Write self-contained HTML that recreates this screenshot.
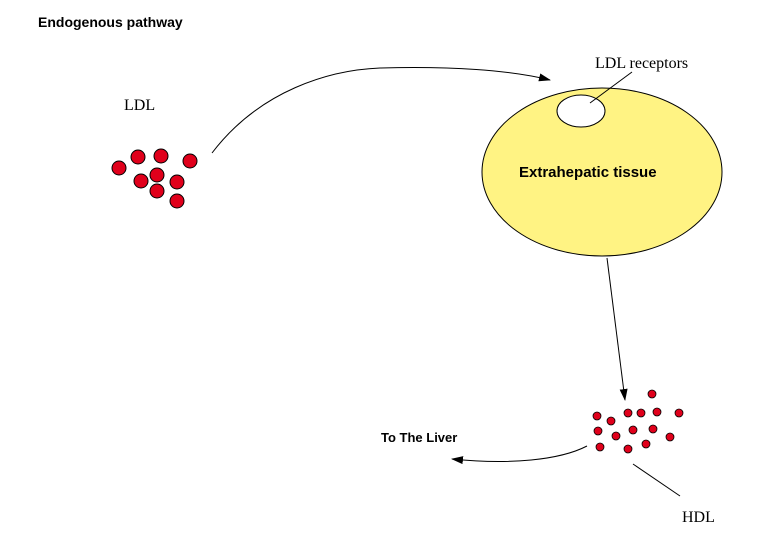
<!DOCTYPE html>
<html><head><style>
body{margin:0;background:#fff;}
svg text{font-family:"Liberation Sans",sans-serif;}
</style></head><body>
<svg width="760" height="547" viewBox="0 0 760 547">
<defs><marker id="ah" markerWidth="12" markerHeight="8" refX="11" refY="4" orient="auto" markerUnits="userSpaceOnUse"><path d="M0,0 L12,4 L0,8 z" fill="#000"/></marker></defs>
<text x="38" y="27" font-size="14" font-weight="bold">Endogenous pathway</text>
<text x="124" y="110" font-size="16" font-family="Liberation Serif" style="font-family:'Liberation Serif',serif">LDL</text>
<g fill="#e0001b" stroke="#000" stroke-width="1">
<circle cx="119" cy="168" r="7"/><circle cx="138" cy="157" r="7"/><circle cx="161" cy="156" r="7"/><circle cx="190" cy="161" r="7"/><circle cx="141" cy="181" r="7"/><circle cx="157" cy="175" r="7"/><circle cx="177" cy="182" r="7"/><circle cx="157" cy="191" r="7"/><circle cx="177" cy="201" r="7"/>
</g>
<path d="M212,153 C260,90 330,70 380,68 C450,66 510,70 550,80" fill="none" stroke="#000" stroke-width="1" marker-end="url(#ah)"/>
<ellipse cx="602" cy="172" rx="120" ry="84" fill="#fff383" stroke="#000" stroke-width="1"/>
<ellipse cx="581" cy="111" rx="24" ry="16" fill="#fff" stroke="#000" stroke-width="1"/>
<line x1="590" y1="103" x2="632" y2="72" stroke="#000" stroke-width="1"/>
<text x="595" y="68" font-size="16" style="font-family:'Liberation Serif',serif">LDL receptors</text>
<text x="519" y="177" font-size="15" font-weight="bold">Extrahepatic tissue</text>
<line x1="607" y1="258" x2="625" y2="400" stroke="#000" stroke-width="1" marker-end="url(#ah)"/>
<g fill="#e0001b" stroke="#000" stroke-width="0.8">
<circle cx="597" cy="416" r="4"/><circle cx="611" cy="421" r="4"/><circle cx="628" cy="413" r="4"/><circle cx="641" cy="413" r="4"/><circle cx="657" cy="412" r="4"/><circle cx="679" cy="413" r="4"/><circle cx="652" cy="394" r="4"/><circle cx="598" cy="431" r="4"/><circle cx="616" cy="436" r="4"/><circle cx="633" cy="430" r="4"/><circle cx="653" cy="429" r="4"/><circle cx="670" cy="437" r="4"/><circle cx="600" cy="447" r="4"/><circle cx="628" cy="449" r="4"/><circle cx="646" cy="444" r="4"/>
</g>
<path d="M587,446 C560,460 510,465 452,459" fill="none" stroke="#000" stroke-width="1" marker-end="url(#ah)"/>
<text x="381" y="442" font-size="13" font-weight="bold">To The Liver</text>
<line x1="633" y1="464" x2="680" y2="496" stroke="#000" stroke-width="1"/>
<text x="682" y="522" font-size="16" style="font-family:'Liberation Serif',serif">HDL</text>
</svg>
</body></html>
